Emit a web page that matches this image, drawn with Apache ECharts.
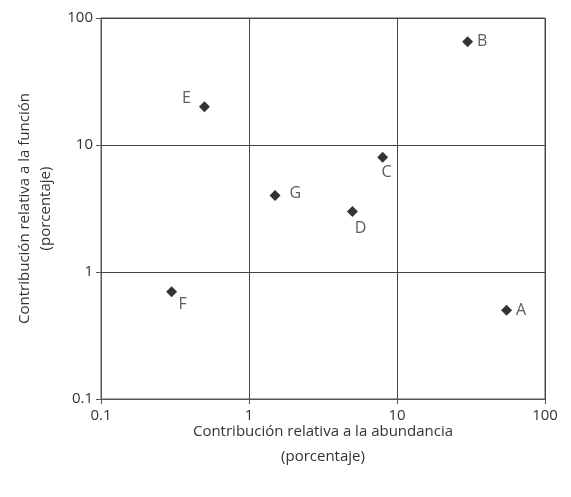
<!DOCTYPE html>
<html><head><meta charset="utf-8">
<script src="https://cdn.jsdelivr.net/npm/echarts@6/dist/echarts.min.js"></script>
<style>html,body{margin:0;padding:0;background:#fff}#c{width:571px;height:497px}</style>
</head><body><div id="c"></div>
<script>
const names = ['A','B','C','D','E','F','G'];
const abundance = [55, 30, 8, 5, 0.5, 0.3, 1.5];
const funcion = [0.5, 65, 8, 3, 20, 0.7, 4];
const labelPos = ['right','right','bottom','bottom','left','bottom','right'];
const labelOffset = [[0,0],[0,0],[4,-2],[8,0],[-4,-8],[11,-5],[5,-2]];
const xTicks = [0.1, 1, 10, 100];
const yTicks = [0.1, 1, 10, 100];
const xName = 'Contribución relativa a la abundancia\n(porcentaje)';
const yName = 'Contribución relativa a la función\n(porcentaje)';

const FONT = 'Open Sans';
const chart = echarts.init(document.getElementById('c'));
chart.setOption({
  animation:false,
  grid:{left:101,right:26,top:18,bottom:98,show:true,borderColor:'#555',borderWidth:1},
  xAxis:{type:'log',logBase:10,min:xTicks[0],max:xTicks[xTicks.length-1],
    name:xName,nameLocation:'middle',nameGap:20,nameMoveOverlap:false,
    nameTextStyle:{fontFamily:FONT,fontSize:15,color:'#333',lineHeight:25},
    axisLine:{lineStyle:{color:'#555'}},axisTick:{show:true,length:5,lineStyle:{color:'#555'}},
    axisLabel:{fontFamily:FONT,fontSize:15,color:'#333',margin:9,formatter:v=>String(v)},
    splitLine:{show:true,lineStyle:{color:'#444',width:1}}},
  yAxis:{type:'log',logBase:10,min:yTicks[0],max:yTicks[yTicks.length-1],
    name:yName,nameLocation:'middle',nameGap:45,nameRotate:90,
    nameTextStyle:{fontFamily:FONT,fontSize:15,color:'#333',lineHeight:21},
    axisLine:{lineStyle:{color:'#555'}},axisTick:{show:true,length:5,lineStyle:{color:'#555'}},
    axisLabel:{fontFamily:FONT,fontSize:15,color:'#333',margin:8,formatter:v=>String(v)},
    splitLine:{show:true,lineStyle:{color:'#444',width:1}}},
  series:[{type:'scatter',symbol:'diamond',symbolSize:11,
    itemStyle:{color:'#000'},
    data:names.map((n,i)=>({value:[abundance[i],funcion[i]],name:n,
      label:{show:true,position:labelPos[i],offset:labelOffset[i],formatter:n,
        fontFamily:FONT,fontSize:16,color:'#333',distance:4}}))}]
});
</script></body></html>
